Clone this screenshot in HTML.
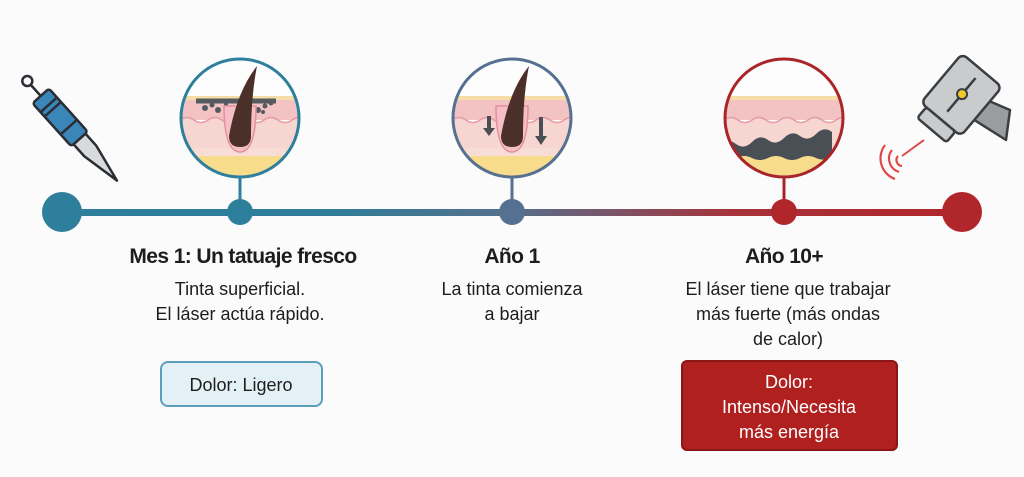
<!DOCTYPE html>
<html><head><meta charset="utf-8"><style>
html,body{margin:0;padding:0;background:#fbfbfb;}
svg{display:block}
text{font-family:"Liberation Sans",sans-serif;}
</style></head><body>
<svg width="1024" height="477" viewBox="0 0 1024 477" xmlns="http://www.w3.org/2000/svg">
<defs>
<linearGradient id="tl" x1="62" y1="0" x2="962" y2="0" gradientUnits="userSpaceOnUse">
<stop offset="0" stop-color="#2e7f9c"/><stop offset="0.3" stop-color="#2f7d98"/>
<stop offset="0.5" stop-color="#566f8c"/><stop offset="0.75" stop-color="#a8323a"/><stop offset="1" stop-color="#b0262a"/>
</linearGradient>
<clipPath id="c1"><circle cx="240" cy="118" r="58"/></clipPath>
<clipPath id="c2"><circle cx="512" cy="118" r="58"/></clipPath>
<clipPath id="c3"><circle cx="784" cy="118" r="58"/></clipPath>
<g id="skin">
<rect x="-60" y="-62" width="120" height="124" fill="#fdfdfd"/>
<rect x="-60" y="-22" width="120" height="4" fill="#f6dca6"/>
<rect x="-60" y="-18" width="120" height="20" fill="#f3c3c3"/>
<path d="M-60,2 q7,-5 14,0 t14,0 t14,0 t14,0 t14,0 t14,0 t14,0 t14,0 t14,0 V32 H-60Z" fill="#f7d5d0" stroke="#e79aa3" stroke-width="1.5"/>
<rect x="-60" y="30" width="120" height="40" fill="#f8ddd6"/>
<rect x="-60" y="38" width="120" height="30" fill="#f7dc8c"/>
</g>
</defs>
<!-- timeline -->
<rect x="62" y="209" width="900" height="7" fill="url(#tl)"/>
<circle cx="62" cy="212" r="20" fill="#2e7f9c"/>
<circle cx="962" cy="212" r="20" fill="#b0262a"/>
<line x1="240" y1="176" x2="240" y2="212" stroke="#2e7f9c" stroke-width="3"/>
<line x1="512" y1="176" x2="512" y2="212" stroke="#557090" stroke-width="3"/>
<line x1="784" y1="176" x2="784" y2="212" stroke="#a8262a" stroke-width="3"/>
<circle cx="240" cy="212" r="13" fill="#2e7f9c"/>
<circle cx="512" cy="212" r="13" fill="#557090"/>
<circle cx="784" cy="212" r="13" fill="#b0262a"/>
<!-- circle 1 -->
<g clip-path="url(#c1)">
<use href="#skin" transform="translate(240,118)"/>
<path d="M196,101 h80" stroke="#555a60" stroke-width="5"/>
<g fill="#555a60"><circle cx="205" cy="108" r="3"/><circle cx="212" cy="105" r="2.5"/><circle cx="218" cy="110" r="3"/><circle cx="226" cy="104" r="2"/><circle cx="258" cy="110" r="3"/><circle cx="265" cy="106" r="2.5"/><circle cx="271" cy="103" r="2.5"/><circle cx="263" cy="112" r="2"/></g>
<path d="M224,106 q0,46 16,46 q16,0 16,-46Z" fill="#f5c0c5" stroke="#e490a0" stroke-width="1.5"/>
<path d="M229,136 q0,11 11,11 q11,0 11,-11 q0,-40 6,-70 q-20,25 -28,70Z" fill="#4a3028"/>
</g>
<circle cx="240" cy="118" r="59" fill="none" stroke="#2e7f9c" stroke-width="3"/>
<!-- circle 2 -->
<g clip-path="url(#c2)">
<use href="#skin" transform="translate(512,118)"/>
<path d="M496,106 q0,46 16,46 q16,0 16,-46Z" fill="#f5c0c5" stroke="#e490a0" stroke-width="1.5"/>
<path d="M501,136 q0,11 11,11 q11,0 11,-11 q0,-40 6,-70 q-20,25 -28,70Z" fill="#4a3028"/>
<path d="M487,116 v12 h-4 l6,8 l6,-8 h-4 v-12Z M539,117 v19 h-4 l6,9 l6,-9 h-4 v-19Z" fill="#4a4e55"/>
</g>
<circle cx="512" cy="118" r="59" fill="none" stroke="#557090" stroke-width="3"/>
<!-- circle 3 -->
<g clip-path="url(#c3)">
<use href="#skin" transform="translate(784,118)"/>
<path d="M720,146 q8,-8 16,-2 t16,-2 t16,-2 t16,-2 t16,-2 t16,-2 t16,-2 V156 q-8,6 -16,2 t-16,0 t-16,0 t-16,0 t-16,0 t-16,0 t-16,0Z" fill="#4a4e55"/>
</g>
<circle cx="784" cy="118" r="59" fill="none" stroke="#a8262a" stroke-width="3"/>
<!-- tattoo machine -->
<g stroke="#2a2d33" stroke-width="2.5" stroke-linejoin="round" transform="translate(30,84) rotate(-42)">
<circle cx="0" cy="-4" r="5" fill="none"/>
<line x1="0" y1="1" x2="0" y2="16"/>
<rect x="-11" y="16" width="22" height="58" rx="3" fill="#3a86b8"/>
<line x1="-11" y1="28" x2="11" y2="28"/><line x1="-11" y1="34" x2="11" y2="34"/><line x1="-11" y1="58" x2="11" y2="58"/>
<path d="M-8,74 h16 v16 l-6,30 l-2,10 l-2,-10 l-6,-30Z" fill="#d8dadc"/>
</g>
<!-- laser -->
<g stroke="#3a3d42" stroke-width="2.5" stroke-linejoin="round">
<path d="M975,95 L1010,110 L1006,140 L968,116Z" fill="#9a9c9e"/>
<g transform="rotate(40 960 95)">
<rect x="935" y="62" width="52" height="64" rx="6" fill="#c9cbcd"/>
<rect x="942" y="126" width="38" height="14" rx="3" fill="#c9cbcd"/>
<line x1="961" y1="72" x2="961" y2="116"/>
<circle cx="961" cy="93" r="5" fill="#f2c72c" stroke-width="2"/>
</g>
</g>
<line x1="902" y1="156" x2="924" y2="140" stroke="#e04848" stroke-width="2"/>
<g fill="none" stroke="#e04848" stroke-width="2.2">
<path d="M898,156 a6,6 0 0 0 4,10"/><path d="M892,150 a14,14 0 0 0 7,22"/><path d="M885,145 a22,22 0 0 0 10,34"/>
</g>
<!-- text -->
<g text-anchor="middle" fill="#1d1d1d">
<text x="243" y="263" font-size="21" font-weight="bold" letter-spacing="-0.6">Mes 1: Un tatuaje fresco</text>
<text x="240" y="295" font-size="18">Tinta superficial.</text>
<text x="240" y="320" font-size="18">El láser actúa rápido.</text>
<text x="512" y="263" font-size="21" font-weight="bold" letter-spacing="-0.6">Año 1</text>
<text x="512" y="295" font-size="18">La tinta comienza</text>
<text x="512" y="320" font-size="18">a bajar</text>
<text x="784" y="263" font-size="21" font-weight="bold" letter-spacing="-0.6">Año 10+</text>
<text x="788" y="295" font-size="18">El láser tiene que trabajar</text>
<text x="788" y="320" font-size="18">más fuerte (más ondas</text>
<text x="788" y="345" font-size="18">de calor)</text>
</g>
<rect x="161" y="362" width="161" height="44" rx="7" fill="#e3f1f7" stroke="#5b9fbd" stroke-width="2"/>
<text x="241" y="391" font-size="18" text-anchor="middle" fill="#1d1d1d">Dolor: Ligero</text>
<rect x="682" y="361" width="215" height="89" rx="5" fill="#b0201f" stroke="#8a1616" stroke-width="2"/>
<g text-anchor="middle" fill="#fff" font-size="18">
<text x="789" y="388">Dolor:</text>
<text x="789" y="413">Intenso/Necesita</text>
<text x="789" y="438">más energía</text>
</g>
</svg>
</body></html>
